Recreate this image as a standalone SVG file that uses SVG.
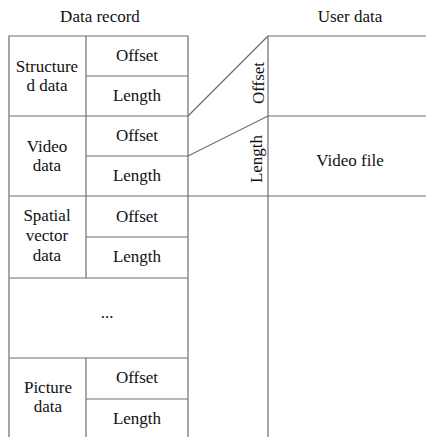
<svg xmlns="http://www.w3.org/2000/svg" width="426" height="437" viewBox="0 0 426 437">
<style>
text{font-family:"Liberation Serif","Times New Roman",serif;font-size:17px;fill:#111;text-anchor:middle}
.ln{stroke:#6e6e6e;stroke-width:1.2;fill:none}
</style>
<rect width="426" height="437" fill="#fff"/>
<text x="100" y="22">Data record</text>
<text x="350" y="22">User data</text>
<g id="connectors" class="ln">
<line x1="188" y1="116" x2="268" y2="36"/>
<line x1="188" y1="156" x2="268" y2="116"/>
<line x1="188" y1="196" x2="268" y2="196"/>
</g>
<g id="data-record" class="ln">
<polyline points="9,437 9,36 188,36 188,437"/>
<line x1="86" y1="36" x2="86" y2="278"/>
<line x1="86" y1="358" x2="86" y2="437"/>
<line x1="86" y1="76" x2="188" y2="76"/>
<line x1="9" y1="116" x2="188" y2="116"/>
<line x1="86" y1="156" x2="188" y2="156"/>
<line x1="9" y1="196" x2="188" y2="196"/>
<line x1="86" y1="237" x2="188" y2="237"/>
<line x1="9" y1="278" x2="188" y2="278"/>
<line x1="9" y1="358" x2="188" y2="358"/>
<line x1="86" y1="399" x2="188" y2="399"/>
</g>
<g id="structured-data">
<text x="47" y="71.5">Structure</text>
<text x="47" y="91">d data</text>
<text x="137" y="61">Offset</text>
<text x="137" y="101">Length</text>
</g>
<g id="video-data">
<text x="47" y="152">Video</text>
<text x="47" y="171">data</text>
<text x="137" y="141">Offset</text>
<text x="137" y="181">Length</text>
</g>
<g id="spatial-vector-data">
<text x="47" y="221">Spatial</text>
<text x="47" y="241">vector</text>
<text x="47" y="261">data</text>
<text x="137" y="222">Offset</text>
<text x="137" y="262">Length</text>
</g>
<g id="ellipsis">
<text x="107" y="318">...</text>
</g>
<g id="picture-data">
<text x="48" y="393">Picture</text>
<text x="48" y="412">data</text>
<text x="137" y="383">Offset</text>
<text x="137" y="424">Length</text>
</g>
<g id="user-data" class="ln">
<line x1="268" y1="36" x2="268" y2="437"/>
<line x1="268" y1="36" x2="426" y2="36"/>
<line x1="268" y1="116" x2="426" y2="116"/>
<line x1="268" y1="196" x2="426" y2="196"/>
</g>
<g id="offset-label"><text transform="translate(264,83) rotate(-90)">Offset</text></g>
<g id="length-label"><text transform="translate(262,159) rotate(-90)">Length</text></g>
<g id="video-file"><text x="350" y="166">Video file</text></g>
</svg>
